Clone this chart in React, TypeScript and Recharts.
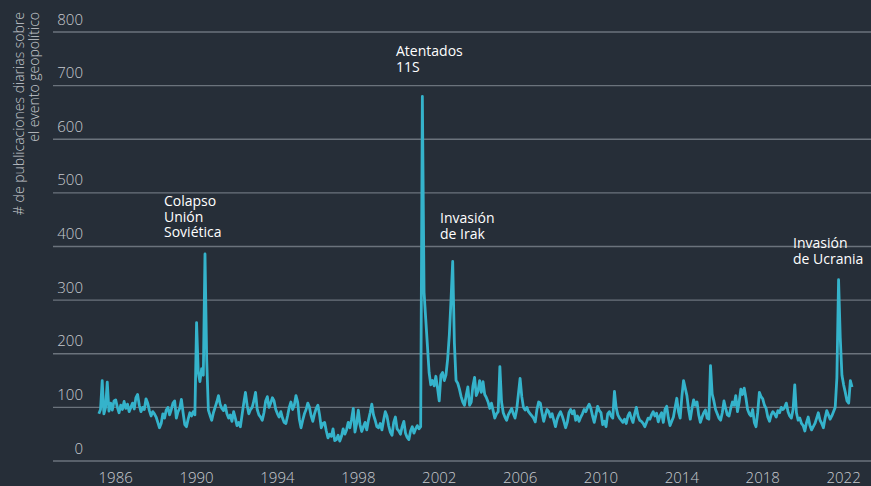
import React from 'react';
import { LineChart, Line, XAxis, YAxis, CartesianGrid } from 'recharts';

// monthly series, first value = March 1985
const startYear = 1985;
const startMonth = 2;

const v1985_1989 = [
  88, 96, 150, 88, 100, 147, 93, 108, 95, 112,
  114, 100, 90, 104, 96, 111, 98, 106, 92, 100, 108, 97,
  118, 124, 104, 92, 100, 96, 116, 108, 94, 84, 92, 88,
  82, 72, 62, 70, 88, 80, 95, 100, 86, 96, 108, 112,
  80, 92, 98, 115, 90, 68, 64, 78, 90, 84, 92, 86,
];
const v1990_1994 = [
  258, 165, 148, 172, 160, 386, 190, 95, 85, 76, 90, 100,
  110, 122, 106, 98, 94, 104, 88, 80, 86, 74, 92, 80,
  66, 72, 64, 86, 108, 128, 104, 88, 96, 100, 112, 128,
  96, 86, 82, 76, 90, 112, 120, 100, 108, 118, 112, 96,
  88, 82, 92, 80, 72, 70, 84, 100, 110, 96, 104, 122,
];
const v1995_1999 = [
  110, 78, 62, 76, 88, 96, 108, 100, 84, 74, 88, 98,
  104, 86, 62, 70, 72, 56, 43, 50, 46, 60, 38, 40,
  48, 37, 46, 60, 50, 58, 72, 62, 78, 98, 54, 70,
  95, 68, 55, 64, 72, 58, 76, 90, 106, 86, 76, 64,
  62, 70, 58, 76, 92, 84, 66, 54, 48, 72, 82, 60,
];
const v2000_2004 = [
  56, 50, 64, 74, 52, 44, 40, 56, 64, 52, 60, 66,
  60, 64, 680, 315, 265, 215, 165, 142, 150, 140, 158, 136,
  112, 160, 165, 150, 160, 190, 235, 300, 372, 220, 150, 145,
  134, 120, 110, 104, 122, 138, 104, 110, 140, 156, 122, 130,
  150, 128, 148, 124, 118, 110, 98, 108, 94, 80, 88, 92,
];
const v2005_2009 = [
  176, 110, 90, 82, 76, 86, 92, 98, 88, 80, 96, 125,
  154, 120, 100, 95, 100, 92, 88, 84, 80, 73, 96, 110,
  108, 90, 74, 86, 96, 92, 82, 88, 76, 64, 78, 86,
  92, 84, 74, 62, 72, 90, 96, 88, 94, 76, 84, 74,
  82, 88, 96, 92, 100, 106, 98, 84, 72, 86, 102, 94,
];
const v2010_2014 = [
  90, 68, 74, 64, 88, 92, 84, 80, 130, 100, 86, 80,
  76, 72, 78, 70, 84, 90, 80, 72, 88, 100, 84, 76,
  74, 70, 64, 72, 80, 78, 86, 92, 84, 89, 73, 84,
  90, 72, 96, 102, 80, 66, 74, 82, 100, 117, 92, 80,
  120, 150, 136, 122, 96, 78, 98, 114, 104, 110, 86, 72,
];
const v2015_2019 = [
  82, 90, 95, 80, 78, 178, 125, 112, 96, 88, 80, 76,
  90, 112, 98, 86, 84, 98, 110, 104, 122, 92, 110, 134,
  124, 136, 118, 96, 88, 84, 96, 72, 64, 90, 128, 120,
  116, 104, 98, 82, 74, 86, 92, 88, 82, 94, 90, 100,
  96, 100, 108, 92, 84, 80, 96, 142, 90, 76, 80, 70,
];
const v2020_2022 = [
  66, 56, 72, 82, 66, 58, 64, 70, 80, 90, 76, 70,
  62, 80, 94, 86, 78, 84, 92, 100, 155, 338, 230, 160,
  142, 128, 112, 108, 150, 138,
];

const yearTicks = [1986, 1990, 1994, 1998, 2002, 2006, 2010, 2014, 2018, 2022];
const valueTicks = [0, 100, 200, 300, 400, 500, 600, 700, 800];

const data = [
  ...v1985_1989, ...v1990_1994, ...v1995_1999, ...v2000_2004,
  ...v2005_2009, ...v2010_2014, ...v2015_2019, ...v2020_2022,
].map((v, i) => ({ t: startYear + (startMonth + i) / 12, v }));

const BG = '#262e38';
const LINE = '#35b3cb';
const GRID = '#6b737c';
const TICK = '#c6cacf';
const FONT = '"Open Sans", sans-serif';

const YTick = (props: any) => (
  <text x={83} y={props.y - 7.5} textAnchor="end" fill={TICK} fontSize={15} fontWeight={300} fontFamily={FONT}>
    {props.payload.value}
  </text>
);

const XTick = (props: any) => (
  <text x={props.x} y={483} textAnchor="middle" fill={TICK} fontSize={15} fontWeight={300} fontFamily={FONT}>
    {props.payload.value}
  </text>
);

const notes = [
  { x: 164, y: 206, lines: ['Colapso', 'Unión', 'Soviética'] },
  { x: 396, y: 56, lines: ['Atentados', '11S'] },
  { x: 440, y: 223, lines: ['Invasión', 'de Irak'] },
  { x: 793, y: 248, lines: ['Invasión', 'de Ucrania'] },
];

export default function App() {
  return (
    <div style={{ position: 'absolute', left: 0, top: 0, width: 871, height: 486, background: BG, fontFamily: FONT }}>
      <LineChart width={871} height={486} data={data} margin={{ top: 32, right: 0, bottom: 0, left: 0 }}>
        <CartesianGrid vertical={false} stroke={GRID} strokeWidth={1.3} />
        <XAxis
          dataKey="t"
          type="number"
          domain={[1982.9, 2023.354]}
          ticks={yearTicks}
          allowDataOverflow
          axisLine={false}
          tickLine={false}
          height={25}
          tick={XTick}
        />
        <YAxis
          type="number"
          domain={[0, 800]}
          ticks={valueTicks}
          width={53}
          axisLine={false}
          tickLine={false}
          tick={YTick}
        />
        <Line
          type="linear"
          dataKey="v"
          stroke={LINE}
          strokeWidth={2.8}
          strokeLinejoin="round"
          dot={false}
          isAnimationActive={false}
        />
      </LineChart>
      <svg width={871} height={486} style={{ position: 'absolute', left: 0, top: 0, pointerEvents: 'none' }}>
        <text transform="rotate(-90)" textAnchor="end" fill={TICK} fontSize={14} fontWeight={300} fontFamily={FONT}>
          <tspan x={-12} y={24}># de publicaciones diarias sobre</tspan>
          <tspan x={-12} y={39}>el evento geopolítico</tspan>
        </text>
        {notes.map((n) => (
          <text key={n.x} fill="#ffffff" fontSize={14} fontFamily={FONT}>
            {n.lines.map((l, j) => (
              <tspan key={j} x={n.x} y={n.y + j * 15.7}>
                {l}
              </tspan>
            ))}
          </text>
        ))}
      </svg>
    </div>
  );
}
